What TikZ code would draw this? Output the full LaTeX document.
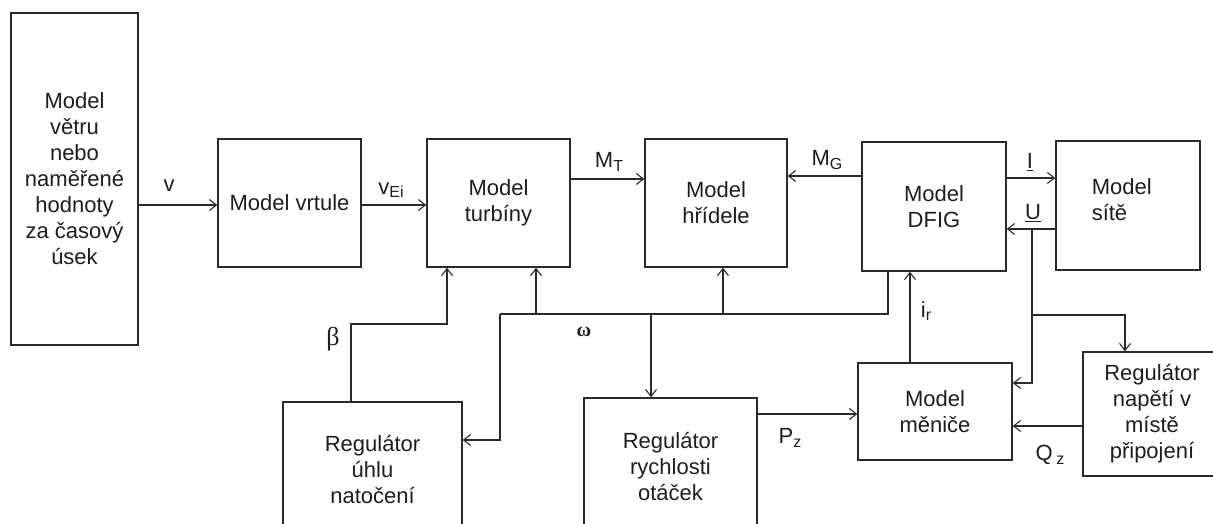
\documentclass[tikz,border=0pt]{standalone}
\usepackage{fontspec}
\setmainfont{Liberation Sans}
\newfontfamily\grk{Liberation Serif}
\usetikzlibrary{arrows.meta}
\definecolor{linec}{HTML}{2A2A2A}
\definecolor{txtc}{HTML}{1E1E1E}
\newcommand\sbs[1]{\raisebox{-3.5pt}{\fontsize{16}{16}\selectfont #1}}
\begin{document}
\begin{tikzpicture}[x=1pt,y=-1pt,
  box/.style={draw=linec, line width=1.5pt, inner sep=0pt, align=center,
    font=\fontsize{22}{26}\selectfont, text=txtc},
  ln/.style={draw=linec, line width=1.1pt},
  arr/.style={draw=linec, line width=1.1pt, -{Straight Barb[length=7pt,width=11pt]}},
  lab/.style={font=\fontsize{22}{24}\selectfont, text=txtc, inner sep=0pt}]
\clip (0,0) rectangle (1213,524);
\fill[white] (0,0) rectangle (1213,524);

% blocks
\node[box, minimum width=127pt, minimum height=332pt] (wind) at (74.5,179)
  {Model\\větru\\nebo\\naměřené\\hodnoty\\za časový\\úsek};
\node[box, minimum width=143pt, minimum height=128pt] (vrt) at (289.5,203) {Model vrtule};
\node[box, minimum width=143pt, minimum height=128pt] (turb) at (498.5,203) {Model\\turbíny};
\node[box, minimum width=142pt, minimum height=128pt] (hrid) at (716,203) {Model\\hřídele};
\node[box, minimum width=144pt, minimum height=129pt] (dfig) at (934,206.5) {Model\\DFIG};
\node[box, minimum width=144pt, minimum height=129pt] (site) at (1128,205.5) {};
\node[box, draw=none, align=left, anchor=west] (sitet) at (1091,200) {Model\\sítě};
\node[box, minimum width=179pt, minimum height=136pt] (uhlu) at (372.5,470) {Regulátor\\úhlu\\natočení};
\node[box, minimum width=173pt, minimum height=138pt] (rych) at (670.5,467) {Regulátor\\rychlosti\\otáček};
\node[box, minimum width=154pt, minimum height=97pt] (menic) at (935,411.5) {Model\\měniče};
\node[box, minimum width=138pt, minimum height=124pt] (nap) at (1152,414) {Regulátor\\napětí v\\místě\\připojení};

% coordinates
\coordinate (busR) at (888,314);
\coordinate (busL) at (500,314);
\coordinate (busT) at (536,314);
\coordinate (busH) at (723,314);
\coordinate (busW) at (651,314);
\coordinate (bL) at (351,324);
\coordinate (bR) at (447,324);
\coordinate (uTop) at (1032,229);
\coordinate (uBr) at (1032,315);
\coordinate (uBrR) at (1125,315);
\coordinate (uBot) at (1032,383);

% top chain
\draw[arr] (wind.east |- 0,205) -- (vrt.west |- 0,205);
\draw[arr] (vrt.east |- 0,205) -- (turb.west |- 0,205);
\draw[arr] (turb.east |- 0,179) -- (hrid.west |- 0,179);
\draw[arr] (dfig.west |- 0,176) -- (hrid.east |- 0,176);
\draw[arr] (dfig.east |- 0,178) -- (site.west |- 0,178);
\draw[arr] (site.west |- uTop) -- (dfig.east |- uTop);

% omega bus
\draw[ln] (dfig.south -| busR) -- (busR) -- (busL);
\draw[arr] (busL) |- (uhlu.east |- 0,440);
\draw[arr] (busT) -- (turb.south -| busT);
\draw[arr] (busH) -- (hrid.south -| busH);
\draw[arr] (busW) -- (rych.north -| busW);

% beta
\draw[arr] (uhlu.north -| bL) -- (bL) -- (bR) -- (turb.south -| bR);

% lower right
\draw[arr] (rych.east |- 0,414) -- (menic.west |- 0,414);
\draw[arr] (menic.north -| 910,0) -- (dfig.south -| 910,0);
\draw[arr] (uTop) -- (uBot) -- (menic.east |- uBot);
\draw[arr] (uBr) -- (uBrR) -- (nap.north -| uBrR);
\draw[arr] (nap.west |- 0,426) -- (menic.east |- 0,426);

% labels
\node[lab] (lv) at (169,186) {v};
\node[lab] (lve) at (391,190) {v\sbs{Ei}};
\node[lab] (lmt) at (609,162) {M\sbs{T}};
\node[lab] (lmg) at (827,160) {M\sbs{G}};
\node[lab] (li) at (1030,162) {\underline{I}};
\node[lab] (lu) at (1033,213) {\underline{U}};
\node[lab] (lir) at (926,311) {i\sbs{r}};
\node[lab, font=\grk\fontsize{26}{26}\selectfont] (lb) at (333,339) {β};
\node[lab, font=\grk\bfseries\fontsize{20}{24}\selectfont] (lw) at (584,332) {ω};
\node[lab] (lpz) at (790,438) {P\sbs{z}};
\node[lab] (lqz) at (1050,455) {Q\,\sbs{z}};
\end{tikzpicture}
\end{document}
